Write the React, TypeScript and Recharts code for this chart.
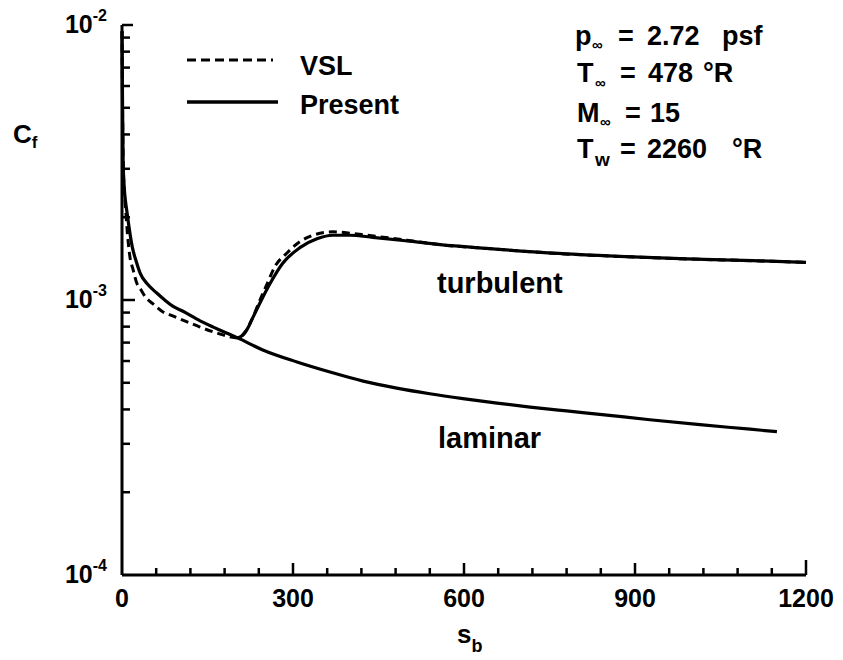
import React from 'react';
import { LineChart, Line, XAxis, YAxis } from 'recharts';

// Present (solid) laminar branch
const presentLaminarS = [0, 1, 2, 4, 6, 9, 13, 18, 25, 32, 45, 61, 75, 89, 107, 137, 160, 203, 247, 307, 365, 423, 482, 540, 598, 658, 716, 780, 838, 926, 1014, 1102, 1149];
const presentLaminarCf = [9.5e-3, 5.0e-3, 3.2e-3, 2.55e-3, 2.3e-3, 2.07e-3, 1.8e-3, 1.56e-3, 1.38e-3, 1.25e-3, 1.14e-3, 1.06e-3, 1.0e-3, 9.5e-4, 9.1e-4, 8.4e-4, 7.97e-4, 7.28e-4, 6.58e-4, 5.95e-4, 5.47e-4, 5.07e-4, 4.78e-4, 4.56e-4, 4.38e-4, 4.22e-4, 4.08e-4, 3.95e-4, 3.84e-4, 3.67e-4, 3.52e-4, 3.39e-4, 3.32e-4];

// Present (solid) turbulent branch
const presentTurbS = [203, 212, 220, 228, 242, 260, 282, 312, 342, 370, 400, 440, 500, 558, 640, 756, 873, 991, 1107, 1200];
const presentTurbCf = [7.28e-4, 7.45e-4, 7.85e-4, 8.5e-4, 9.75e-4, 1.15e-3, 1.36e-3, 1.55e-3, 1.67e-3, 1.72e-3, 1.72e-3, 1.69e-3, 1.64e-3, 1.59e-3, 1.54e-3, 1.48e-3, 1.44e-3, 1.41e-3, 1.39e-3, 1.37e-3];

// VSL (dashed)
const vslS = [0, 1, 2, 4, 6, 9, 14, 19, 26, 32, 42, 54, 70, 89, 110, 137, 165, 203, 215, 228, 242, 255, 268, 289, 312, 335, 370, 400, 430, 500, 558, 640, 756, 873, 991, 1107, 1200];
const vslCf = [9.5e-3, 5.0e-3, 3.2e-3, 2.5e-3, 2.2e-3, 1.8e-3, 1.43e-3, 1.3e-3, 1.15e-3, 1.1e-3, 1.02e-3, 9.7e-4, 9.1e-4, 8.75e-4, 8.4e-4, 7.97e-4, 7.6e-4, 7.28e-4, 7.6e-4, 8.5e-4, 1.0e-3, 1.15e-3, 1.32e-3, 1.48e-3, 1.63e-3, 1.72e-3, 1.77e-3, 1.75e-3, 1.72e-3, 1.65e-3, 1.59e-3, 1.54e-3, 1.48e-3, 1.44e-3, 1.41e-3, 1.39e-3, 1.37e-3];

const xMajorTicks = [0, 300, 600, 900, 1200];
const xAllTicks = [0, 60, 120, 180, 240, 300, 360, 420, 480, 540, 600, 660, 720, 780, 840, 900, 960, 1020, 1080, 1140, 1200];
const yDecadeTicks = [1e-4, 1e-3, 1e-2];
const yDecadeExponents = ['-4', '-3', '-2'];
const yAllTicks = [1e-4, 2e-4, 3e-4, 4e-4, 5e-4, 6e-4, 7e-4, 8e-4, 9e-4, 1e-3, 2e-3, 3e-3, 4e-3, 5e-3, 6e-3, 7e-3, 8e-3, 9e-3, 1e-2];

const toPoints = (s: number[], cf: number[]) => s.map((v, i) => ({ s: v, cf: cf[i] }));

const FONT = '"Liberation Sans", Arial, Helvetica, sans-serif';

const XTick = (props: any) => {
    const { x, y, payload } = props;
    const v = payload.value;
    const major = xMajorTicks.includes(v);
    const len = v === 1200 ? 15 : v === 0 ? 0 : major ? 12 : 7;
    return (
        <g>
            {len > 0 && <line x1={x} x2={x} y1={y} y2={y - len} stroke="#000" strokeWidth={2.5} />}
            {major && (
                <text x={x} y={y + 32} textAnchor="middle" fontFamily={FONT} fontWeight="bold" fontSize={25} fill="#000">
                    {v}
                </text>
            )}
        </g>
    );
};

const YTick = (props: any) => {
    const { x, y, payload } = props;
    const v = payload.value;
    const idx = yDecadeTicks.findIndex(d => Math.abs(d - v) / d < 1e-6);
    const len = idx === 1 ? 13 : idx === 2 ? 11 : idx === 0 ? 0 : 8;
    return (
        <g>
            {len > 0 && <line x1={x} x2={x + len} y1={y} y2={y} stroke="#000" strokeWidth={2.5} />}
            {idx >= 0 && (
                <text x={x - 15} y={y + 8} textAnchor="end" fontFamily={FONT} fontWeight="bold" fontSize={25} fill="#000">
                    10<tspan fontSize={16} dy={-12}>{yDecadeExponents[idx]}</tspan>
                </text>
            )}
        </g>
    );
};

export default function App() {
    const txt = { fontFamily: FONT, fontWeight: 'bold' as const, fill: '#000' };
    return (
        <div style={{ position: 'absolute', left: 0, top: 0, width: 843, height: 660, background: '#fff' }}>
            <LineChart width={843} height={660} margin={{ top: 25, right: 37, left: 0, bottom: 0 }}>
                <XAxis
                    dataKey="s"
                    type="number"
                    domain={[0, 1200]}
                    ticks={xAllTicks}
                    interval={0}
                    height={85}
                    tickSize={0}
                    tickMargin={0}
                    tickLine={false}
                    axisLine={{ stroke: '#000', strokeWidth: 3 }}
                    tick={<XTick />}
                />
                <YAxis
                    type="number"
                    scale="log"
                    domain={[1e-4, 1e-2]}
                    allowDataOverflow
                    ticks={yAllTicks}
                    interval={0}
                    width={122}
                    tickSize={0}
                    tickMargin={0}
                    tickLine={false}
                    axisLine={{ stroke: '#000', strokeWidth: 3 }}
                    tick={<YTick />}
                />
                <Line data={toPoints(vslS, vslCf)} dataKey="cf" type="monotone" stroke="#000" strokeWidth={3} strokeDasharray="8 5" dot={false} activeDot={false} isAnimationActive={false} />
                <Line data={toPoints(presentLaminarS, presentLaminarCf)} dataKey="cf" type="monotone" stroke="#000" strokeWidth={3.2} dot={false} activeDot={false} isAnimationActive={false} />
                <Line data={toPoints(presentTurbS, presentTurbCf)} dataKey="cf" type="monotone" stroke="#000" strokeWidth={3.2} dot={false} activeDot={false} isAnimationActive={false} />
            </LineChart>

            <svg width={843} height={660} style={{ position: 'absolute', left: 0, top: 0, pointerEvents: 'none' }}>
                {/* legend */}
                <line x1={187} x2={273} y1={60} y2={60} stroke="#000" strokeWidth={3} strokeDasharray="9 5" />
                <text x={300} y={75} fontSize={27} {...txt}>VSL</text>
                <line x1={187} x2={278} y1={102} y2={102} stroke="#000" strokeWidth={3.5} />
                <text x={300} y={114} fontSize={27} {...txt}>Present</text>

                {/* conditions */}
                <text y={45} fontSize={27} {...txt}>
                    <tspan x={575}>p</tspan>
                    <tspan x={592} y={50} fontSize={15}>∞</tspan>
                    <tspan x={618} y={45}>=</tspan>
                    <tspan x={647}>2.72</tspan>
                    <tspan x={722}>psf</tspan>
                </text>
                <text y={82} fontSize={27} {...txt}>
                    <tspan x={577}>T</tspan>
                    <tspan x={595} y={88} fontSize={15}>∞</tspan>
                    <tspan x={620} y={82}>=</tspan>
                    <tspan x={648}>478</tspan>
                    <tspan x={703}>°R</tspan>
                </text>
                <text y={122} fontSize={27} {...txt}>
                    <tspan x={577}>M</tspan>
                    <tspan x={600} y={127} fontSize={15}>∞</tspan>
                    <tspan x={625} y={122}>=</tspan>
                    <tspan x={650}>15</tspan>
                </text>
                <text y={158} fontSize={27} {...txt}>
                    <tspan x={577}>T</tspan>
                    <tspan x={595} y={166} fontSize={19}>w</tspan>
                    <tspan x={620} y={158}>=</tspan>
                    <tspan x={647}>2260</tspan>
                    <tspan x={732}>°R</tspan>
                </text>

                {/* curve labels */}
                <text x={437} y={293} fontSize={29} {...txt}>turbulent</text>
                <text x={438} y={448} fontSize={29} {...txt}>laminar</text>

                {/* axis titles */}
                <text x={13} y={143} fontSize={26} {...txt}>
                    C<tspan fontSize={17} dy={5}>f</tspan>
                </text>
                <text x={457} y={643} fontSize={26} {...txt}>
                    s<tspan fontSize={18} dy={9}>b</tspan>
                </text>
            </svg>
        </div>
    );
}
